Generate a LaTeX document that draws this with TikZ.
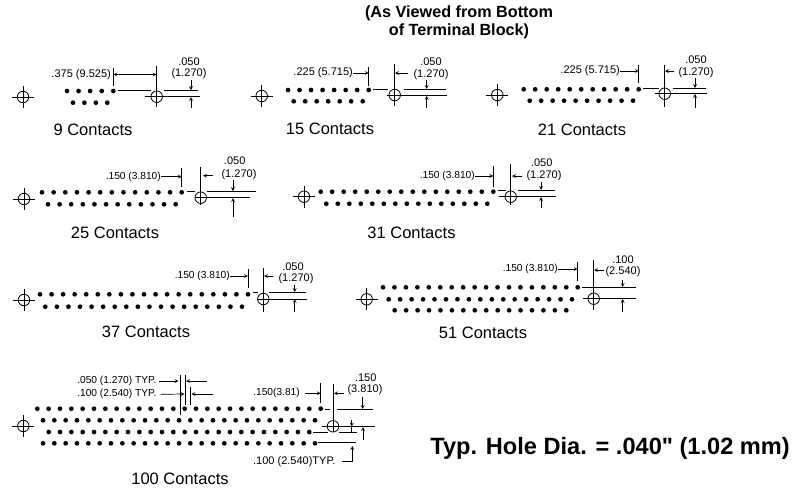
\documentclass[tikz,border=0pt]{standalone}
\usepackage{fontspec}
\setmainfont{Liberation Sans}
\newfontfamily\holefont{Liberation Sans}
\usepackage{tikz}
\usetikzlibrary{positioning,arrows}
\tikzstyle{line} = [line width=0.8pt]
\tikzstyle{arrow} = [line width=0.7pt,->,>=stealth]
\tikzstyle{both} = [line width=0.7pt,<->,>=stealth]
\newcommand{\contactrow}[5]{%
	\foreach \i in {1,...,#5}{
		\pgfmathsetmacro{\rowx}{#2+(\i-1)*(#3-#2)/(#5-1)}
		\node(#1-\i) [contact] at (\rowx,#4) {};
	}
}
\newcommand{\target}[3]{%
	\node(#1) [hole] at (#2,#3) {};
	\draw [line] (#1.center) ++(-11,0) -- ++(22,0);
	\draw [line] (#1.center) ++(0,-11) -- ++(0,22);
}

\begin{document}
\begin{tikzpicture}[x=1pt,y=-1pt]
\tikzset{%
	contact/.style = { circle, fill=black, inner sep=0pt, minimum size=4.7pt },
	hole/.style = { circle, draw=black, line width=0.8pt, inner sep=0pt, minimum size=11.5pt },
	dim/.style = { inner sep=0pt, font=\fontsize{11}{12}\selectfont },
	dimsmall/.style = { inner sep=0pt, font=\fontsize{10.2}{12}\selectfont },
	caption/.style = { inner sep=0pt, font=\fontsize{16.5}{18}\selectfont },
	title/.style = { inner sep=0pt, font=\fontsize{16.2}{18}\selectfont\bfseries }
}
\useasboundingbox (0,0) rectangle (803,491);

\node(TitleA)	[title] at (459,13) {(As Viewed from Bottom};
\node(TitleB)	[title] at (459,31) {of Terminal Block)};
\node(HoleDia)	[inner sep=0pt, font=\holefont\fontsize{23.6}{26}\selectfont\bfseries, anchor=east] at (790,448)
								{Typ. Hole Dia. = .040" (1.02 mm)};

% 9 contacts
\target{LeftA}{23}{97}
\contactrow{RowA1}{67}{113.3}{91}{5}
\contactrow{RowA2}{73}{107.3}{102.7}{4}
\node(HoleA)	[hole] at (156.7,96.7) {};
\node(DistA)	[dim, anchor=east] at (111,74.5) {.375 (9.525)};
\node(GapA)		[dim] at (189,62) {.050};
\node(MmA)		[dim] at (189,74) {(1.270)};
\node(NameA)	[caption] at (93,130) {9 Contacts};
\draw [line]	(HoleA.center) ++(0,-31) -- ++(0,41);
\draw [line]	(HoleA.center) ++(-12,0) -- ++(55,0);
\draw [line]	(RowA1-5.center) ++(0,-5) -- ++(0,-18);
\draw [line]	(118,90) -- (151,90);
\draw [line]	(164,90) -- (198,90);
\draw [both]	(DistA.east -| RowA1-5) -- (DistA.east -| HoleA);
\draw [arrow]	(191,80) -- (191,90);
\draw [arrow]	(191,108) -- (191,97);

% 15 contacts
\target{LeftB}{261.7}{96}
\contactrow{RowB1}{288}{368.7}{90}{8}
\contactrow{RowB2}{293.7}{362.7}{101.3}{7}
\node(HoleB)	[hole] at (394.7,95) {};
\node(DistB)	[dim, anchor=east] at (353,73) {.225 (5.715)};
\node(GapB)		[dim] at (431,62) {.050};
\node(MmB)		[dim] at (431,75) {(1.270)};
\node(NameB)	[caption] at (330,129) {15 Contacts};
\draw [line]	(HoleB.center) ++(0,-31) -- ++(0,42);
\draw [line]	(HoleB.center) ++(-8,0) -- ++(60,0);
\draw [line]	(RowB1-8.center) ++(0,-4) -- ++(0,-19);
\draw [line]	(373,89.5) -- (388,89.5);
\draw [line]	(404,89.5) -- (446,89.5);
\draw [arrow]	(DistB.east) -- (DistB.east -| RowB1-8);
\draw [arrow]	(408,73) -- (395,73);
\draw [arrow]	(426.7,80) -- (426.7,89);
\draw [arrow]	(426.7,108) -- (426.7,96);

% 21 contacts
\target{LeftC}{497.3}{95}
\contactrow{RowC1}{523.7}{638.7}{89.3}{11}
\contactrow{RowC2}{529.7}{633}{100.7}{10}
\node(HoleC)	[hole] at (664.7,93.7) {};
\node(DistC)	[dim, anchor=east] at (620,71) {.225 (5.715)};
\node(GapC)		[dim] at (696,60) {.050};
\node(MmC)		[dim] at (696,72.7) {(1.270)};
\node(NameC)	[caption] at (582,130) {21 Contacts};
\draw [line]	(HoleC.center) ++(0,-29) -- ++(0,42);
\draw [line]	(HoleC.center) ++(-10,0) -- ++(52,0);
\draw [line]	(RowC1-11.center) ++(0,-6) -- ++(0,-18);
\draw [line]	(643,88.7) -- (659,88.7);
\draw [line]	(673,88.7) -- (706,88.7);
\draw [arrow]	(DistC.east) -- (DistC.east -| RowC1-11);
\draw [arrow]	(674,71) -- (665,71);
\draw [arrow]	(695,78) -- (695,88);
\draw [arrow]	(695,108) -- (695,94);

% 25 contacts
\target{LeftD}{24}{199}
\contactrow{RowD1}{42}{181.7}{192.3}{13}
\contactrow{RowD2}{48}{175.7}{204.3}{12}
\node(HoleD)	[hole] at (200.7,197.7) {};
\node(DistD)	[dimsmall, anchor=east] at (161,176.7) {.150 (3.810)};
\node(GapD)		[dim] at (234.7,160.7) {.050};
\node(MmD)		[dim] at (239,175) {(1.270)};
\node(NameD)	[caption] at (115,233) {25 Contacts};
\draw [line]	(HoleD.center) ++(0,-31) -- ++(0,38);
\draw [line]	(HoleD.center) ++(-6,0) -- ++(55.5,0);
\draw [line]	(RowD1-13.center) ++(0,-5) -- ++(0,-19);
\draw [line]	(187,191.3) -- (195,191.3);
\draw [line]	(207,191.3) -- (256,191.3);
\draw [arrow]	(DistD.east) -- (DistD.east -| RowD1-13);
\draw [arrow]	(213,175.7) -- (203,175.7);
\draw [arrow]	(233,180) -- (233,191);
\draw [arrow]	(233,217) -- (233,198);

% 31 contacts
\target{LeftE}{304}{196.7}
\contactrow{RowE1}{320.7}{493.3}{191.7}{16}
\contactrow{RowE2}{326.3}{487.3}{203.7}{15}
\node(HoleE)	[hole] at (510.7,196.7) {};
\node(DistE)	[dimsmall, anchor=east] at (475,176) {.150 (3.810)};
\node(GapE)		[dim] at (541.7,163) {.050};
\node(MmE)		[dim] at (544,176) {(1.270)};
\node(NameE)	[caption] at (411.5,232.7) {31 Contacts};
\draw [line]	(HoleE.center) ++(0,-33) -- ++(0,41);
\draw [line]	(HoleE.center) ++(-12,0) -- ++(57,0);
\draw [line]	(RowE1-16.center) ++(0,-5) -- ++(0,-21);
\draw [line]	(498,190) -- (506,190);
\draw [line]	(518,190) -- (555,190);
\draw [arrow]	(DistE.east) -- (DistE.east -| RowE1-16);
\draw [arrow]	(522,176) -- (512,176);
\draw [arrow]	(541,182) -- (541,190);
\draw [arrow]	(541,208) -- (541,197);

% 37 contacts
\target{LeftF}{24}{300}
\contactrow{RowF1}{40}{248}{294.3}{19}
\contactrow{RowF2}{45.3}{242}{306.7}{18}
\node(HoleF)	[hole] at (263.3,299) {};
\node(DistF)	[dimsmall, anchor=east] at (230,276) {.150 (3.810)};
\node(GapF)		[dim] at (293,267) {.050};
\node(MmF)		[dim] at (296,279) {(1.270)};
\node(NameF)	[caption] at (146,331.7) {37 Contacts};
\draw [line]	(HoleF.center) ++(0,-31) -- ++(0,44);
\draw [line]	(HoleF.center) ++(-5,0) -- ++(49,0);
\draw [line]	(RowF1-19.center) ++(0,-6) -- ++(0,-19);
\draw [line]	(253,292.7) -- (258,292.7);
\draw [line]	(269,292.7) -- (306,292.7);
\draw [arrow]	(DistF.east) -- (DistF.east -| RowF1-19);
\draw [arrow]	(273,276) -- (264,276);
\draw [arrow]	(294.7,285) -- (294.7,292);
\draw [arrow]	(294.7,312) -- (294.7,299);

% 51 contacts
\target{LeftG}{366.7}{299.3}
\contactrow{RowG1}{383}{577.7}{287.3}{18}
\contactrow{RowG2}{388.7}{572}{299.3}{17}
\contactrow{RowG3}{394.7}{566.3}{310.3}{16}
\node(HoleG)	[hole] at (593.7,298.7) {};
\node(DistG)	[dimsmall, anchor=east] at (558,269) {.150 (3.810)};
\node(GapG)		[dim] at (623,260) {.100};
\node(MmG)		[dim] at (623,272) {(2.540)};
\node(NameG)	[caption] at (483,333) {51 Contacts};
\draw [line]	(HoleG.center) ++(0,-39) -- ++(0,50);
\draw [line]	(583,298.7) -- (636,298.7);
\draw [line]	(RowG1-18.center) ++(0,-6) -- ++(0,-19);
\draw [line]	(582,287.3) -- (636,287.3);
\draw [arrow]	(DistG.east) -- (DistG.east -| RowG1-18);
\draw [arrow]	(604,270) -- (594,270);
\draw [arrow]	(622.7,280) -- (622.7,287);
\draw [arrow]	(622.7,312) -- (622.7,299);

% 100 contacts
\target{LeftH}{23.3}{426}
\contactrow{RowH1}{37.3}{320.7}{408.7}{26}
\contactrow{RowH2}{43}{315}{420.3}{25}
\contactrow{RowH3}{48.7}{309.3}{432}{24}
\contactrow{RowH4}{43}{315}{443.3}{25}
\node(HoleH)	[hole] at (333,426.3) {};
\node(PitchA)	[dimsmall, anchor=east] at (156.7,381) {.050 (1.270) TYP.};
\node(PitchB)	[dimsmall, anchor=east] at (156.7,394.3) {.100 (2.540) TYP.};
\node(DistH)	[dimsmall, anchor=east] at (300,393.3) {.150(3.81)};
\node(GapH)		[dim] at (365.7,377.7) {.150};
\node(MmH)		[dim] at (365,390) {(3.810)};
\node(RowPitch)	[dim, anchor=east] at (335.7,461.7) {.100 (2.540)TYP.};
\node(NameH)	[caption] at (180,479) {100 Contacts};
\draw [line]	(180,375) -- (180,415);
\draw [line]	(185,375) -- (185,405);
\draw [line]	(190.7,387) -- (190.7,405);
\draw [arrow]	(PitchA.east) ++(2,0) -- (178.5,381);
\draw [arrow]	(207,381) -- (186,381);
\draw [arrow]	(PitchB.east) ++(4,0) -- (184.5,394);
\draw [arrow]	(212.7,394) -- (191.5,394);
\draw [line]	(HoleH.center) ++(0,-42.5) -- ++(0,48);
\draw [line]	(321.7,426.7) -- (375,426.7);
\draw [line]	(325,409.3) -- (330,409.3);
\draw [line]	(336.7,409.3) -- (372.7,409.3);
\draw [line]	(313,432.7) -- (328,432.7);
\draw [line]	(339,432.7) -- (356.7,432.7);
\draw [line]	(318,442.7) -- (356,442.7);
\draw [line]	(RowH1-26.center) ++(0,-5.5) -- ++(0,-20);
\draw [arrow]	(DistH.east) ++(5,0) -- (DistH.east -| RowH1-26);
\draw [arrow]	(344,393.3) -- (334,393.3);
\draw [arrow]	(362.7,397) -- (362.7,409);
\draw [arrow]	(351.7,420) -- (351.7,426.5);
\draw [line]	(351.7,427) -- (351.7,432);
\draw [arrow]	(363,440) -- (363,427);
\draw [arrow]	(RowPitch.east) ++(6,0) -| (352.3,446);

\end{tikzpicture}
\end{document}
